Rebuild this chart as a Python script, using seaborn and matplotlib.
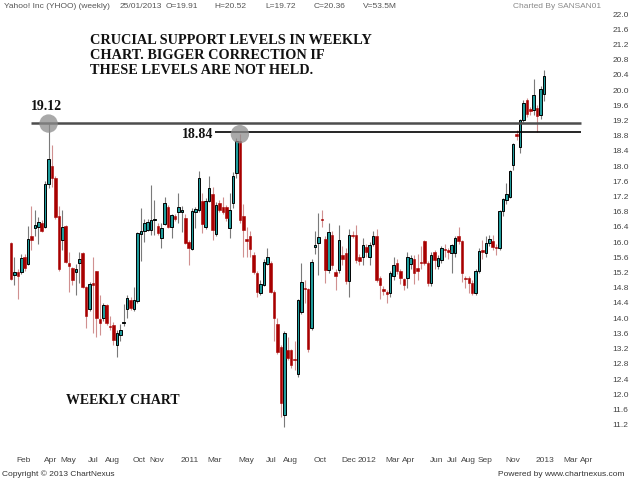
import numpy as np
import pandas as pd
import matplotlib
matplotlib.use("Agg")
import matplotlib.pyplot as plt
import seaborn as sns
from matplotlib.transforms import ScaledTranslation

# ---------------- data (weekly OHLC, YHOO) ----------------
start_date = "2010-01-29"
opens = [15.97,15.14,15.22,15.22,15.62,15.43,16.15,16.37,16.39,16.50,16.41,17.53,18.00,17.70,16.69,16.06,16.43,15.45,15.32,15.21,
         15.46,15.71,14.83,14.23,14.93,15.23,13.97,14.00,14.35,13.80,13.82,13.30,13.56,13.87,14.24,14.48,14.23,14.46,16.21,16.30,
         16.33,16.33,16.58,16.43,16.12,16.48,16.92,16.41,16.70,16.80,16.80,16.63,16.01,15.81,16.80,16.85,17.09,16.39,17.09,17.27,
         16.21,17.02,16.92,16.92,16.37,17.02,17.81,18.65,16.69,16.08,16.16,15.66,15.18,14.67,14.87,15.43,15.45,14.70,13.85,13.25,
         11.45,13.16,13.16,12.92,12.53,14.15,14.80,14.78,13.73,15.87,15.97,16.60,16.08,15.27,16.19,15.22,15.27,15.66,15.72,14.99,
         16.19,16.19,15.62,15.62,15.86,15.62,15.95,16.15,15.05,14.76,14.68,14.65,15.10,15.45,15.23,15.02,15.05,15.43,15.56,15.31,
         15.49,16.02,15.45,14.92,15.73,15.36,15.53,15.81,15.80,15.71,15.71,16.16,16.02,15.07,15.05,14.93,14.65,15.23,15.80,15.71,
         15.99,16.03,15.87,15.84,16.82,17.11,17.20,18.03,18.85,18.51,19.22,19.74,19.50,19.48,19.52,19.35,19.91]
highs = [16.00,15.62,15.30,15.70,15.70,16.42,16.95,16.85,16.65,16.58,17.60,19.12,18.56,17.75,16.95,16.85,16.45,15.75,15.35,15.42,
         15.75,15.75,14.85,14.95,15.60,15.25,14.60,14.40,14.38,14.05,13.90,13.70,13.85,14.37,14.62,14.55,14.83,16.28,16.90,16.60,
         16.60,17.50,17.10,16.50,16.50,17.20,16.97,16.75,16.75,17.30,16.95,16.75,16.05,16.90,16.93,17.86,17.30,17.15,17.73,17.45,
         17.05,17.10,17.20,16.98,17.30,17.85,18.75,18.84,17.00,16.40,16.30,15.75,15.25,15.00,15.55,15.85,15.50,14.75,14.00,13.30,
         13.65,13.50,13.20,13.40,14.50,15.44,15.00,14.80,15.55,16.30,16.76,16.85,16.15,16.50,16.30,15.30,16.45,15.90,15.85,16.35,
         16.30,16.45,15.70,16.10,15.95,16.00,16.30,16.35,15.10,14.85,14.75,15.25,15.60,15.55,15.30,15.05,15.75,15.65,15.65,15.70,
         15.90,16.05,15.50,15.75,15.80,15.65,15.90,15.95,15.85,15.95,16.15,16.40,16.05,15.10,15.10,15.00,15.30,15.85,16.05,16.15,
         16.20,16.20,15.95,16.85,17.15,17.55,17.90,18.60,18.95,19.25,19.75,19.78,19.55,20.30,19.60,20.10,20.52]
lows = [15.00,14.87,14.50,15.15,15.25,15.40,15.80,16.15,15.95,16.28,16.38,17.43,17.46,16.60,15.25,15.80,15.45,14.70,14.87,14.62,
        14.93,14.80,13.75,14.20,13.62,13.50,13.55,13.93,13.82,13.70,13.30,12.98,13.40,13.80,14.00,14.22,14.20,14.40,15.50,16.00,
        16.30,16.20,16.20,16.20,15.85,16.45,16.36,16.10,16.55,16.50,16.28,15.95,15.40,15.80,16.37,16.80,16.23,16.35,17.05,16.05,
        16.15,16.80,16.75,16.55,16.10,16.90,17.70,16.50,15.62,15.60,15.60,15.15,14.55,14.60,14.85,15.40,14.65,13.40,13.05,11.41,
        11.15,12.90,12.70,12.65,12.45,14.10,14.40,13.10,13.70,15.70,15.14,16.40,14.92,15.20,15.30,14.75,15.20,15.40,14.90,14.57,
        16.10,15.45,15.40,15.40,15.60,15.40,15.90,14.95,14.50,14.60,14.40,14.55,15.00,15.15,14.90,14.75,14.80,15.30,14.90,15.00,
        15.30,15.40,14.85,14.85,15.30,15.30,15.45,15.60,15.55,15.18,15.60,15.95,14.95,14.80,14.65,14.60,14.60,15.20,15.55,15.60,
        15.90,15.80,15.65,15.80,16.70,17.00,17.15,17.90,18.70,18.34,19.15,19.30,19.35,19.35,18.91,19.25,19.72]
closes = [15.02,15.22,15.12,15.58,15.31,16.08,16.05,16.45,16.54,16.30,17.53,18.18,17.68,16.67,15.29,16.41,15.49,15.36,15.00,15.29,
          15.55,14.83,14.06,14.90,14.88,14.00,13.88,14.35,13.87,13.76,13.43,13.62,13.69,13.91,14.53,14.28,14.48,16.25,16.30,16.50,
          16.52,16.57,16.62,16.23,16.37,17.02,16.39,16.72,16.62,16.92,16.85,15.99,15.84,16.83,16.87,17.68,16.48,17.09,17.42,16.32,
          16.98,16.85,16.80,16.63,16.85,17.73,18.65,16.57,16.32,16.04,15.81,15.22,14.70,14.90,15.49,15.62,14.70,14.00,13.12,11.76,
          13.60,12.94,12.77,12.90,14.48,14.96,14.76,13.18,15.49,15.93,16.13,16.58,15.27,16.28,15.40,15.11,16.06,15.55,14.99,16.19,
          16.15,15.53,15.51,15.93,15.75,15.93,16.15,15.00,14.87,14.72,14.63,15.18,15.40,15.23,15.05,14.87,15.62,15.58,15.18,15.23,
          15.45,15.45,14.92,15.66,15.53,15.58,15.84,15.80,15.75,15.93,16.10,16.02,15.18,15.04,14.93,14.67,15.23,15.78,15.73,15.99,
          16.08,15.88,15.84,16.82,17.13,17.27,17.87,18.58,18.80,19.22,19.67,19.37,19.46,19.87,19.32,20.02,20.36]

tick_months = ["2010-02","2010-04","2010-05","2010-07","2010-08","2010-10","2010-11",
               "2011-01","2011-03","2011-05","2011-07","2011-08","2011-10","2011-12",
               "2012-01","2012-03","2012-04","2012-06","2012-07","2012-08","2012-09","2012-11",
               "2013-01","2013-03","2013-04"]
tick_texts = ["Feb","Apr","May","Jul","Aug","Oct","Nov",
              "2011","Mar","May","Jul","Aug","Oct","Dec",
              "2012","Mar","Apr","Jun","Jul","Aug","Sep","Nov",
              "2013","Mar","Apr"]
y_ticks = [11.2,11.6,12.0,12.4,12.8,13.2,13.6,14.0,14.4,14.8,15.2,15.6,16.0,16.4,16.8,
           17.2,17.6,18.0,18.4,18.8,19.2,19.6,20.0,20.4,20.8,21.2,21.6,22.0]

support_levels = [19.13, 18.89]          # drawn support lines
support_start = ["2010-03-10", "2011-03-23"]
support_end = "2013-04-10"
peak_windows = [(0, 30), (50, 80)]      # candle index windows holding the two highs

header = ["Yahoo! Inc (YHOO) (weekly)", "25/01/2013", "O=19.91", "H=20.52",
          "L=19.72", "C=20.36", "V=53.5M"]
note = "CRUCIAL SUPPORT LEVELS IN WEEKLY\nCHART. BIGGER CORRECTION IF\nTHESE LEVELS ARE NOT HELD."

# ---------------- frame ----------------
df = pd.DataFrame({"date": pd.date_range(start_date, periods=len(opens), freq="7D"),
                   "open": opens, "high": highs, "low": lows, "close": closes})
t0 = df["date"].iloc[0]
def wk(d):
    return (pd.Timestamp(d) - t0).days / 7.0
df["w"] = (df["date"] - t0).dt.days / 7.0
df["up"] = df["close"] >= df["open"]

sns.set_theme(style="white")
plt.rcParams["font.family"] = ["Liberation Sans", "DejaVu Sans"]

fig = plt.figure(figsize=(6.4, 4.8), dpi=100)
fig.patch.set_facecolor("white")
ax = fig.add_axes([0, 28 / 480, 600 / 640, 452 / 480])
ax.set_facecolor("white")

TEAL = "#1f9c9c"
RED = "#a80000"
up = df[df["up"]]
dn = df[~df["up"]]

ax.vlines(up["w"], up["low"], up["high"], color="#7a7a7a", lw=0.8, zorder=2)
ax.vlines(dn["w"], dn["low"], dn["high"], color="#d09090", lw=0.8, zorder=2)

def body(sub):
    lo = np.minimum(sub["open"], sub["close"])
    h = np.maximum(np.abs(sub["close"] - sub["open"]), 0.03)
    return lo, h

lo, h = body(up)
ax.bar(up["w"], h, bottom=lo, width=0.74, color=TEAL, edgecolor="black", linewidth=0.7, zorder=3)
lo, h = body(dn)
ax.bar(dn["w"], h, bottom=lo, width=0.74, color=RED, edgecolor=RED, linewidth=0.4, zorder=3)

# support lines
ax.hlines(support_levels[0], wk(support_start[0]), wk(support_end), color="#4d4d4d", lw=1.8, zorder=4)
ax.hlines(support_levels[1], wk(support_start[1]), wk(support_end), color="black", lw=1.2, zorder=4)

# circles at the two highs
pk = []
for a, b in peak_windows:
    seg = df.iloc[a:b]
    r = seg.loc[seg["high"].idxmax()]
    pk.append((r["w"], r["high"]))
pk = pd.DataFrame(pk, columns=["w", "high"])
sns.scatterplot(data=pk, x="w", y="high", s=175, color="#8c8c8c", alpha=0.75,
                edgecolor="none", ax=ax, zorder=5, legend=False)

# axes
ax.set_xlim(-3.22, 172.4)
ax.set_ylim(10.48, 22.37)
for s in ax.spines.values():
    s.set_visible(False)
ax.yaxis.tick_right()
ax.set_yticks(y_ticks)
ax.set_yticklabels([f"{v:.1f}" for v in y_ticks])
tick_pos = []
for m in tick_months:
    d = pd.Timestamp(m + "-01")
    d = d + pd.Timedelta(days=(4 - d.weekday()) % 7)
    tick_pos.append(wk(d))
ax.set_xticks(tick_pos)
ax.set_xticklabels(tick_texts)
ax.tick_params(axis="both", length=0, labelsize=6, labelcolor="#444444")
ax.tick_params(axis="y", pad=9)
ax.tick_params(axis="x", pad=3.5)
off = ScaledTranslation(2 / 100, 0, fig.dpi_scale_trans)
for lab in ax.get_xticklabels():
    lab.set_horizontalalignment("left")
    lab.set_transform(lab.get_transform() + off)
ax.set_xlabel("")
ax.set_ylabel("")
ax.grid(False)

# header / footer
hx = [4, 120, 166, 214, 265, 314, 363]
for x, t in zip(hx, header):
    fig.text(x / 640, 1 - 7 / 480, t, fontsize=6, color="#555555", va="center", ha="left")
fig.text(601 / 640, 1 - 7 / 480, "Charted By SANSAN01", fontsize=6, color="#8a8a8a", va="center", ha="right")
fig.text(2 / 640, 1 - 474 / 480, "Copyright \u00a9 2013 ChartNexus", fontsize=6, color="#333333", va="center", ha="left")
fig.text(624 / 640, 1 - 474 / 480, "Powered by www.chartnexus.com", fontsize=6, color="#333333", va="center", ha="right")

serif = ["Liberation Serif", "DejaVu Serif"]
fig.text(90 / 640, 1 - 34 / 480, note, fontsize=10.3, fontweight="bold", family=serif,
         color="#111111", va="top", ha="left", linespacing=1.22)
fig.text(47 / 640, 1 - 107 / 480, "19.12", fontsize=10, fontweight="bold", family=serif,
         color="#111111", va="center", ha="center")
fig.text(198 / 640, 1 - 135 / 480, "18.84", fontsize=10, fontweight="bold", family=serif,
         color="#111111", va="center", ha="center")
fig.text(123 / 640, 1 - 401 / 480, "WEEKLY CHART", fontsize=10, fontweight="bold", family=serif,
         color="#111111", va="center", ha="center")

fig.savefig("out.png", dpi=100, facecolor="white")
